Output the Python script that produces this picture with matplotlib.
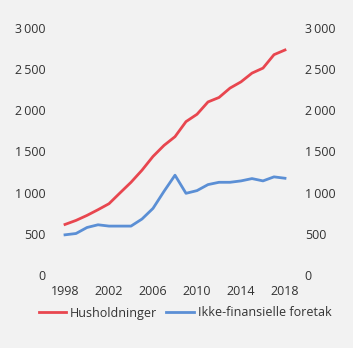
import matplotlib
matplotlib.use('Agg')
import matplotlib.pyplot as plt
import numpy as np

# Gjeld, mrd. kroner
years = np.arange(1998, 2019)
husholdninger = [614, 663, 724, 793, 866, 997, 1126, 1273, 1440, 1574, 1680,
                 1863, 1952, 2102, 2156, 2270, 2346, 2452, 2513, 2676, 2733]
foretak = [488, 504, 577, 610, 594, 594, 594, 680, 809, 1016, 1212,
           992, 1025, 1098, 1126, 1126, 1143, 1171, 1143, 1192, 1175]
yticks = [0, 500, 1000, 1500, 2000, 2500, 3000]
xticks = [1998, 2002, 2006, 2010, 2014, 2018]

red = '#e8464f'
blue = '#5b8fd5'
bg = '#f2f2f2'
txt = '#333333'

plt.rcParams['font.family'] = ['Open Sans', 'DejaVu Sans']
fs = 9

W, H = 353, 348
fig = plt.figure(figsize=(W / 100, H / 100), dpi=100, facecolor=bg)
ax = fig.add_axes([55 / W, 1 - 275 / H, 240 / W, 247 / H], facecolor=bg)

ax.plot(years, husholdninger, color=red, lw=2, label='Husholdninger')
ax.plot(years, foretak, color=blue, lw=2, label='Ikke-finansielle foretak')

ax.set_xlim(1997.09, 2018.91)
ax.set_ylim(0, 3000)

def fmt(v):
    # tusenskille med smalt mellomrom
    return '{:,}'.format(v).replace(',', '\u2009')

ax.set_yticks(yticks)
ax.set_yticklabels([fmt(v) for v in yticks])
ax.set_xticks(xticks)
ax.set_xticklabels([str(y) for y in xticks])
ax.tick_params(axis='both', length=0, colors=txt, labelsize=fs)
ax.tick_params(axis='y', pad=7, labelright=True)
ax.tick_params(axis='x', pad=7)
for s in ax.spines.values():
    s.set_visible(False)

leg = fig.legend(loc='center', bbox_to_anchor=(185 / W, 1 - 313 / H), ncol=2,
                 frameon=False, handlelength=2.2, handletextpad=0.3,
                 columnspacing=0.75, fontsize=fs)
for t in leg.get_texts():
    t.set_color(txt)

fig.savefig('out.png', dpi=100, facecolor=bg)
